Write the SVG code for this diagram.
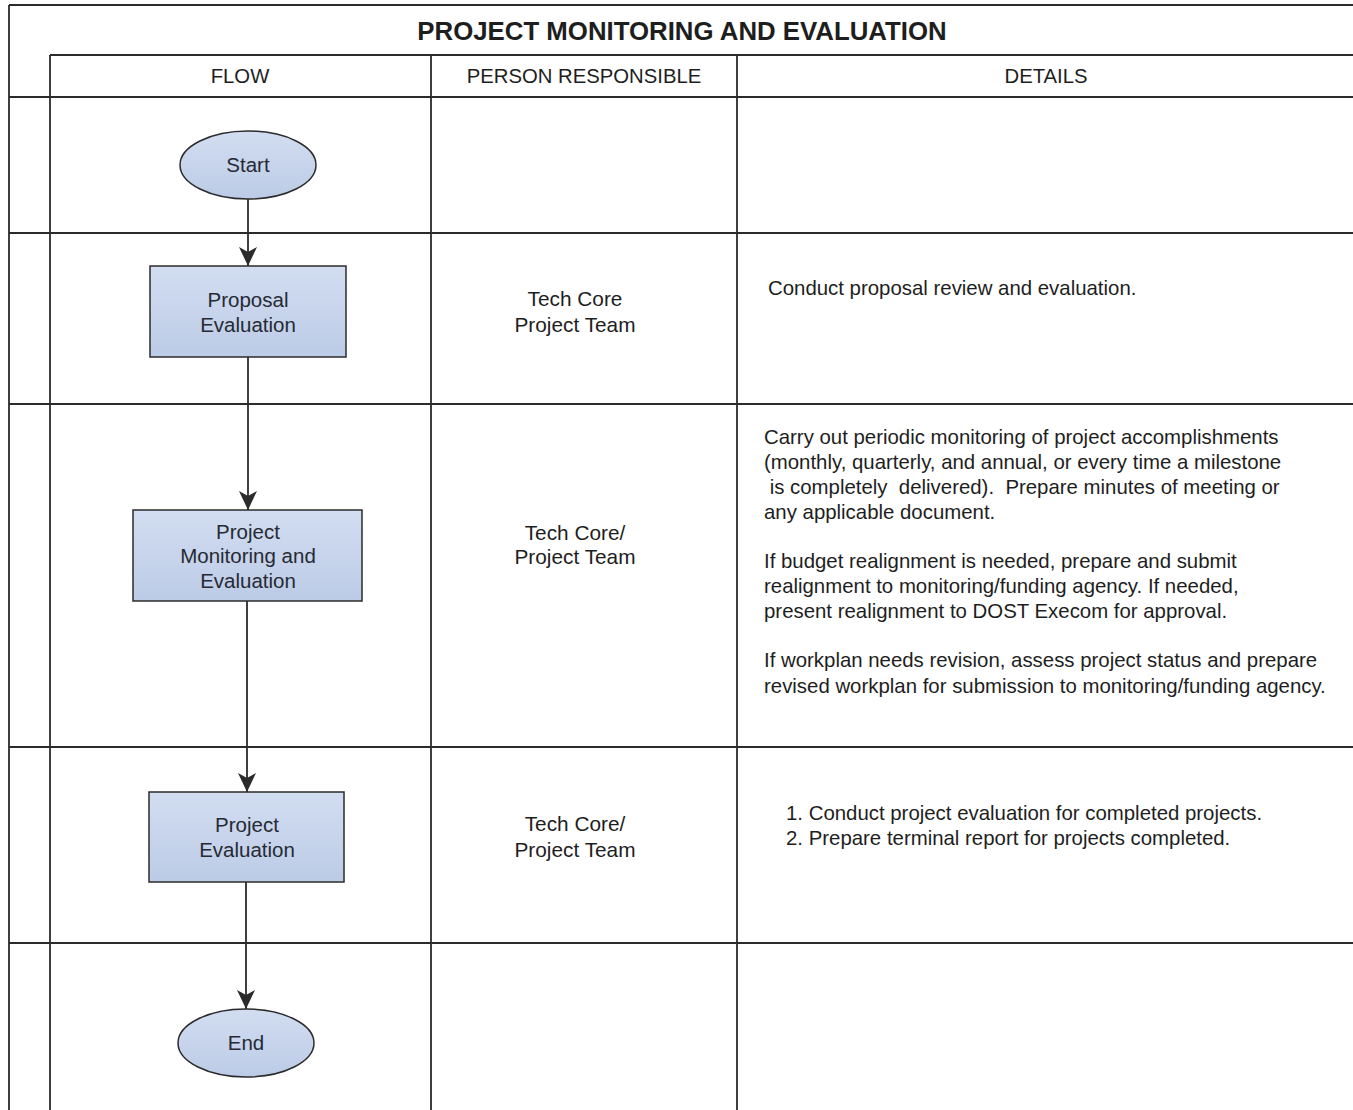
<svg xmlns="http://www.w3.org/2000/svg" width="1353" height="1110" viewBox="0 0 1353 1110">
<defs>
<style>
.grid{stroke:#2b2b2b;stroke-width:1.8;fill:none}
.node{fill:url(#nf);stroke:#2b2b2b;stroke-width:1.5}
.conn{stroke:#2b2b2b;stroke-width:1.8;fill:none;marker-end:url(#ah)}
text{font-family:"Liberation Sans",Arial,sans-serif;fill:#1e1e1e}
.title{font-size:25.8px;font-weight:bold;text-anchor:middle}
.hdr{font-size:20.3px;text-anchor:middle}
.nt{font-size:20.5px;text-anchor:middle;fill:#262a33}
.pr{font-size:20.8px;text-anchor:middle}
.dt{font-size:20.4px;white-space:pre}
</style>
<linearGradient id="nf" x1="0" y1="0" x2="0" y2="1">
<stop offset="0" stop-color="#d2ddf1"/>
<stop offset="1" stop-color="#bccbe6"/>
</linearGradient>
<marker id="ah" markerUnits="userSpaceOnUse" markerWidth="19" markerHeight="19" viewBox="0 0 19 18" refX="19" refY="9" orient="auto">
<path d="M0,0 L19,9 L0,18 L5,9 z" fill="#2b2b2b"/>
</marker>
</defs>
<rect width="1353" height="1110" fill="#ffffff"/>
<g id="table">
<line class="grid" x1="9" y1="5" x2="1353" y2="5"/>
<line class="grid" x1="9" y1="5" x2="9" y2="1110"/>
<line class="grid" x1="50" y1="55" x2="1353" y2="55"/>
<line class="grid" x1="50" y1="55" x2="50" y2="1110"/>
<line class="grid" x1="9" y1="97" x2="1353" y2="97"/>
<line class="grid" x1="431" y1="55" x2="431" y2="1110"/>
<line class="grid" x1="737" y1="55" x2="737" y2="1110"/>
<line class="grid" x1="9" y1="233" x2="1353" y2="233"/>
<line class="grid" x1="9" y1="404" x2="1353" y2="404"/>
<line class="grid" x1="9" y1="747" x2="1353" y2="747"/>
<line class="grid" x1="9" y1="943" x2="1353" y2="943"/>
<text class="title" x="682" y="40">PROJECT MONITORING AND EVALUATION</text>
<text class="hdr" x="240" y="83">FLOW</text>
<text class="hdr" x="584" y="83">PERSON RESPONSIBLE</text>
<text class="hdr" x="1046" y="83">DETAILS</text>
</g>
<g id="connectors">
<line class="conn" x1="248" y1="199" x2="248" y2="266"/>
<line class="conn" x1="248" y1="357" x2="248" y2="510"/>
<line class="conn" x1="247" y1="601" x2="247" y2="792"/>
<line class="conn" x1="246" y1="882" x2="246" y2="1009"/>
</g>
<g id="start">
<ellipse class="node" cx="248" cy="165" rx="68" ry="34"/>
<text class="nt" x="248" y="172">Start</text>
</g>
<g id="proposal-evaluation">
<rect class="node" x="150" y="266" width="196" height="91"/>
<text class="nt" x="248" y="307">Proposal</text>
<text class="nt" x="248" y="332">Evaluation</text>
</g>
<g id="project-monitoring">
<rect class="node" x="133" y="510" width="229" height="91"/>
<text class="nt" x="248" y="539">Project</text>
<text class="nt" x="248" y="563">Monitoring and</text>
<text class="nt" x="248" y="588">Evaluation</text>
</g>
<g id="project-evaluation">
<rect class="node" x="149" y="792" width="195" height="90"/>
<text class="nt" x="247" y="832">Project</text>
<text class="nt" x="247" y="857">Evaluation</text>
</g>
<g id="end">
<ellipse class="node" cx="246" cy="1043" rx="68" ry="34"/>
<text class="nt" x="246" y="1050">End</text>
</g>
<g id="persons">
<text class="pr" x="575" y="306">Tech Core</text>
<text class="pr" x="575" y="332">Project Team</text>
<text class="pr" x="575" y="540">Tech Core/</text>
<text class="pr" x="575" y="564">Project Team</text>
<text class="pr" x="575" y="831">Tech Core/</text>
<text class="pr" x="575" y="857">Project Team</text>
</g>
<g id="details">
<text class="dt" x="768" y="295">Conduct proposal review and evaluation.</text>
<text class="dt" x="764" y="444">Carry out periodic monitoring of project accomplishments</text>
<text class="dt" x="764" y="469">(monthly, quarterly, and annual, or every time a milestone</text>
<text class="dt" x="764" y="494"> is completely  delivered).  Prepare minutes of meeting or</text>
<text class="dt" x="764" y="519">any applicable document.</text>
<text class="dt" x="764" y="568">If budget realignment is needed, prepare and submit</text>
<text class="dt" x="764" y="593">realignment to monitoring/funding agency. If needed,</text>
<text class="dt" x="764" y="618">present realignment to DOST Execom for approval.</text>
<text class="dt" x="764" y="667">If workplan needs revision, assess project status and prepare</text>
<text class="dt" x="764" y="693">revised workplan for submission to monitoring/funding agency.</text>
<text class="dt" x="786" y="820">1. Conduct project evaluation for completed projects.</text>
<text class="dt" x="786" y="845">2. Prepare terminal report for projects completed.</text>
</g>
</svg>
